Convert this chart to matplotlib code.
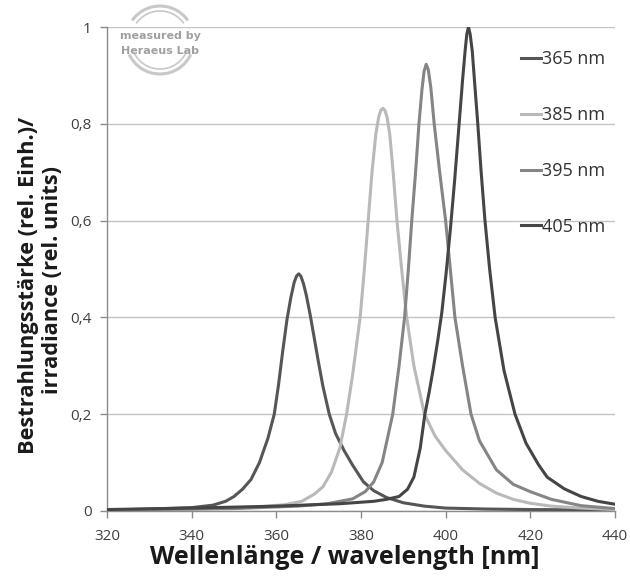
import matplotlib
matplotlib.use("Agg")
import matplotlib.pyplot as plt
from matplotlib.patches import Arc
from matplotlib.ticker import FuncFormatter

# ---- data ----
wl_365 = [320, 330, 340, 345, 348, 350, 352, 354, 356, 358, 359.5, 360.5, 361.5, 362.5, 363.4,
          364.2, 364.8, 365.3, 365.8, 366.4, 367.1, 368, 369, 370, 371, 372.5, 374, 376, 378,
          380.6, 383, 386, 390, 395, 400, 410, 420, 440]
v_365 = [0.002, 0.004, 0.007, 0.012, 0.02, 0.03, 0.045, 0.065, 0.1, 0.15, 0.2, 0.26, 0.33,
         0.395, 0.44, 0.472, 0.486, 0.49, 0.485, 0.47, 0.445, 0.405, 0.355, 0.305, 0.258, 0.2,
         0.16, 0.125, 0.095, 0.06, 0.042, 0.028, 0.017, 0.01, 0.006, 0.004, 0.003, 0.002]

wl_385 = [320, 340, 355, 362, 366, 369, 371, 373, 375, 376.6, 378, 379.8, 380.8, 381.7, 382.6,
          383.5, 384.2, 384.7, 385.2, 385.7, 386.2, 386.8, 387.6, 388.5, 389.6, 390.8, 392.5,
          395, 397.5, 400, 404, 408, 412, 416, 420, 425, 432, 440]
v_385 = [0.002, 0.004, 0.008, 0.013, 0.02, 0.035, 0.05, 0.08, 0.13, 0.2, 0.28, 0.4, 0.5, 0.6,
         0.7, 0.778, 0.815, 0.828, 0.832, 0.827, 0.812, 0.778, 0.7, 0.6, 0.5, 0.4, 0.3, 0.2,
         0.155, 0.125, 0.085, 0.057, 0.037, 0.024, 0.016, 0.01, 0.006, 0.003]

wl_395 = [320, 350, 365, 372, 378, 381, 383, 385, 386.5, 387.5, 389, 390.3, 391.2, 392, 392.9,
          393.7, 394.4, 394.9, 395.4, 395.9, 396.5, 397.3, 398.6, 400, 401.1, 402.2, 404, 406,
          408, 412, 416, 420, 425, 432, 440]
v_395 = [0.002, 0.005, 0.01, 0.015, 0.025, 0.04, 0.06, 0.1, 0.16, 0.2, 0.3, 0.4, 0.5, 0.6, 0.7,
         0.8, 0.87, 0.908, 0.923, 0.912, 0.875, 0.8, 0.7, 0.6, 0.5, 0.4, 0.3, 0.2, 0.145, 0.085,
         0.055, 0.04, 0.024, 0.011, 0.005]

wl_405 = [320, 340, 360, 375, 383, 386, 389, 391, 392.5, 394, 395.1, 396.1, 397.1, 398.1, 399.1,
          400.1, 401.1, 402.1, 403.1, 404.0, 404.6, 405.0, 405.4, 405.8, 406.3, 406.9, 407.6,
          408.4, 409.3, 410.4, 411.7, 413.8, 416.4, 419, 422, 424, 428, 432, 436, 440]
v_405 = [0.003, 0.006, 0.01, 0.015, 0.02, 0.024, 0.03, 0.045, 0.07, 0.13, 0.2, 0.245, 0.295,
         0.35, 0.41, 0.49, 0.58, 0.68, 0.79, 0.89, 0.95, 0.985, 1.0, 0.985, 0.95, 0.88, 0.8,
         0.7, 0.6, 0.5, 0.4, 0.29, 0.2, 0.14, 0.095, 0.07, 0.046, 0.03, 0.02, 0.014]

labels = ["365 nm", "385 nm", "395 nm", "405 nm"]
colors = ["#565656", "#b9b9b9", "#858585", "#454545"]

x_ticks = [320, 340, 360, 380, 400, 420, 440]
y_ticks = [0, 0.2, 0.4, 0.6, 0.8, 1.0]

ylabel_lines = ["Bestrahlungsstärke (rel. Einh.)/", "irradiance (rel. units)"]
xlabel_text = "Wellenlänge / wavelength [nm]"

plt.rcParams['font.family'] = ['Open Sans', 'DejaVu Sans']

W, H = 630, 581
fig = plt.figure(figsize=(W / 100, H / 100), dpi=100)
ax = fig.add_axes([0.170, 0.1205, 0.806, 0.833])

series = [(wl_365, v_365), (wl_385, v_385), (wl_395, v_395), (wl_405, v_405)]
for (x, y), lab, c in zip(series, labels, colors):
    ax.plot(x, y, color=c, lw=2.2, label=lab, solid_joinstyle='round', zorder=3)

ax.set_xlim(320, 440)
ax.set_ylim(0, 1.0)
ax.set_xticks(x_ticks)
ax.set_yticks(y_ticks)
ax.yaxis.set_major_formatter(FuncFormatter(lambda v, p: ("%g" % round(v, 1)).replace('.', ',')))
ax.grid(axis='y', color='#c4c4c4', lw=1.0, zorder=0)
ax.set_axisbelow(True)
for s in ['top', 'right']:
    ax.spines[s].set_visible(False)
for s in ['left', 'bottom']:
    ax.spines[s].set_color('#8c8c8c')
    ax.spines[s].set_linewidth(1.0)
ax.tick_params(axis='both', colors='#8c8c8c', length=5, width=1.0, labelcolor='#404040',
               labelsize=11)
ax.tick_params(axis='x', pad=8)
ax.tick_params(axis='y', pad=6)

# x label, fitted to the reference width (~390 px), centred at x=345 px
xl = fig.text(345 / W, 1 - 557 / H, xlabel_text, ha='center', va='center', fontsize=17,
              fontweight='bold', color='#1a1a1a')
# y label lines, first line ~334 px long
yl1 = fig.text(29 / W, 1 - 285 / H, ylabel_lines[0], rotation=90, ha='center', va='center',
               fontsize=13, fontweight='bold', color='#1a1a1a')
yl2 = fig.text(53 / W, 1 - 280 / H, ylabel_lines[1], rotation=90, ha='center', va='center',
               fontsize=13, fontweight='bold', color='#1a1a1a')

fig.canvas.draw()
r = fig.canvas.get_renderer()
wx = xl.get_window_extent(r).width
xl.set_fontsize(17 * 390 / wx)
hy = yl1.get_window_extent(r).height
fs_y = 13 * 334 / hy
yl1.set_fontsize(fs_y)
yl2.set_fontsize(fs_y)

leg = ax.legend(loc='upper left', bbox_to_anchor=(0.813, 0.9295), bbox_transform=fig.transFigure,
                frameon=False, handlelength=1.1, handletextpad=0.05, labelspacing=2.1,
                fontsize=13, borderpad=0)
for t in leg.get_texts():
    t.set_color('#333333')

# logo badge "measured by Heraeus Lab"
lax = fig.add_axes([160/630 - 40/630, 1 - 80/581, 80/630, 80/581])
lax.set_xlim(-40, 40)
lax.set_ylim(-40, 40)
lax.axis('off')
for rr, lw in [(34, 2.2), (29, 1.2)]:
    lax.add_patch(Arc((0, 0), 2*rr, 2*rr, theta1=35, theta2=145, color='#c8c8c8', lw=lw))
    lax.add_patch(Arc((0, 0), 2*rr, 2*rr, theta1=205, theta2=335, color='#c8c8c8', lw=lw))
lax.text(0, 4, "measured by", ha='center', va='center', fontsize=8, fontweight='bold',
         color='#a0a0a0', family=['Liberation Sans Narrow', 'DejaVu Sans'])
lax.text(0, -11, "Heraeus Lab", ha='center', va='center', fontsize=8, fontweight='bold',
         color='#a0a0a0', family=['Liberation Sans Narrow', 'DejaVu Sans'])

fig.savefig("out.png", dpi=100)
